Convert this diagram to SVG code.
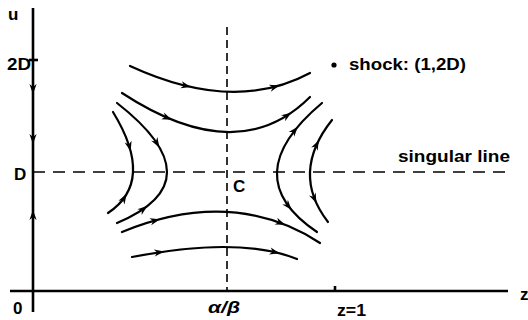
<svg xmlns="http://www.w3.org/2000/svg" xmlns:xlink="http://www.w3.org/1999/xlink" width="528" height="320" viewBox="0 0 528 320">
<style>
.ax{stroke:#000;stroke-width:2.6;fill:none}
.dash{stroke:#000;stroke-width:1.6;fill:none}
.fl{stroke:#000;stroke-width:2.2;fill:none;stroke-linecap:round}
.t{font-family:"Liberation Sans Narrow","Liberation Sans",Arial,sans-serif;font-weight:bold;font-size:17px;fill:#000}
</style>
<defs>
<path id="ah" d="M1,0 L-9,-3.6 L-6,0 L-9,3.6 Z" fill="#000"/>
</defs>
<g id="axes">
<line class="ax" x1="33" y1="8" x2="33" y2="312"/>
<line class="ax" x1="10" y1="291" x2="508" y2="291"/>
<line class="ax" x1="29" y1="60" x2="38" y2="60" stroke-width="2"/>
<line class="ax" x1="335" y1="286" x2="335" y2="291" stroke-width="2"/>
<use xlink:href="#ah" transform="translate(33,93) rotate(90)"/>
<use xlink:href="#ah" transform="translate(33,143) rotate(90)"/>
<use xlink:href="#ah" transform="translate(33,211) rotate(-90)"/>
</g>
<g id="guides">
<line class="dash" x1="33" y1="172" x2="506" y2="172" stroke-dasharray="12,8"/>
<line class="dash" x1="227" y1="27" x2="227" y2="291" stroke-dasharray="8,5"/>
</g>
<g id="flow">
<path class="fl" d="M130,66 Q234,114 310,73"/>
<path class="fl" d="M122,93 Q238,169 310,97"/>
<path class="fl" d="M122,232 Q233,186.5 320,243"/>
<path class="fl" d="M132,257 Q239.5,236 297,259"/>
<path class="fl" d="M113,112 Q155.5,181.5 108,213"/>
<path class="fl" d="M117,103 Q217,181 117,223"/>
<path class="fl" d="M322,103 Q234.5,176.5 317,232"/>
<path class="fl" d="M332,120 Q290,173 328,222"/>
<use xlink:href="#ah" transform="translate(189.9,86.8) rotate(12.6)"/>
<use xlink:href="#ah" transform="translate(278.5,85.8) rotate(-15.9)"/>
<use xlink:href="#ah" transform="translate(170.9,119.3) rotate(22.2)"/>
<use xlink:href="#ah" transform="translate(290.5,113.2) rotate(-34.2)"/>
<use xlink:href="#ah" transform="translate(159,219.4) rotate(-14.7)"/>
<use xlink:href="#ah" transform="translate(284.3,224.5) rotate(21.5)"/>
<use xlink:href="#ah" transform="translate(163.2,251.7) rotate(-8.2)"/>
<use xlink:href="#ah" transform="translate(278.6,253.1) rotate(14.2)"/>
<use xlink:href="#ah" transform="translate(130.4,150.3) rotate(75)"/>
<use xlink:href="#ah" transform="translate(126.1,194.9) rotate(-58.6)"/>
<use xlink:href="#ah" transform="translate(158.9,146.6) rotate(59.2)"/>
<use xlink:href="#ah" transform="translate(146.6,206.7) rotate(-37.2)"/>
<use xlink:href="#ah" transform="translate(297.2,127.5) rotate(-50.2)"/>
<use xlink:href="#ah" transform="translate(290.8,209.1) rotate(50.6)"/>
<use xlink:href="#ah" transform="translate(318.4,141.1) rotate(-63.5)"/>
<use xlink:href="#ah" transform="translate(316,202.3) rotate(66.2)"/>
</g>
<g id="shock">
<circle cx="334" cy="65" r="2.6" fill="#000"/>
<text class="t" x="349" y="70" textLength="117" lengthAdjust="spacingAndGlyphs">shock: (1,2D)</text>
</g>
<g id="labels">
<text class="t" x="8" y="20">u</text>
<text class="t" x="7" y="70" textLength="24" lengthAdjust="spacingAndGlyphs">2D</text>
<text class="t" x="14" y="180">D</text>
<text class="t" x="233" y="192">C</text>
<text class="t" x="13" y="314">0</text>
<text class="t" x="208" y="313" font-style="italic" textLength="32" lengthAdjust="spacingAndGlyphs">α/β</text>
<text class="t" x="337" y="316" textLength="29" lengthAdjust="spacingAndGlyphs">z=1</text>
<text class="t" x="520" y="300">z</text>
<text class="t" x="398" y="162" textLength="112" lengthAdjust="spacingAndGlyphs">singular line</text>
</g>
</svg>
